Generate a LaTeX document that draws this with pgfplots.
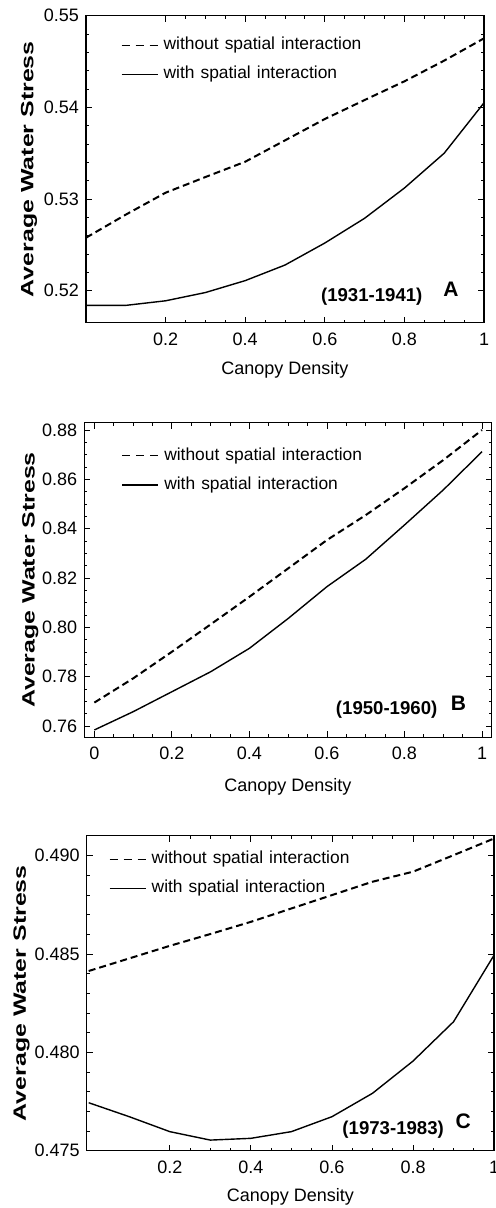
\documentclass[border=0pt]{standalone}
\usepackage{pgfplots}
\pgfplotsset{compat=1.18}
\usepackage{fontspec}
\setmainfont{Liberation Sans}
\newfontfamily\ylabfont{Liberation Sans}[FakeStretch=1.4]
\newfontfamily\legfont{Liberation Sans}[WordSpace=1.25]

\tikzset{
 tagnode/.style={font=\bfseries\fontsize{9.3}{11}\selectfont},
 letternode/.style={font=\bfseries\fontsize{10.5}{12}\selectfont},
}
\pgfplotsset{
 panel/.style={
  scale only axis, anchor=south west,
  axis line style={line width=0.65pt},
  every tick/.style={line width=0.45pt, black},
  major tick length=3pt, minor tick length=1.6pt,
  tick align=inside,
  minor x tick num=3,
  /pgf/number format/assume math mode=true,
  tick label style={font=\fontsize{9}{10}\selectfont},
  xticklabel style={/pgf/number format/fixed, /pgf/number format/precision=1, yshift=-1.5pt},
  xlabel={Canopy Density},
  ylabel={Average Water Stress},
  xlabel style={font=\fontsize{9}{10}\selectfont, anchor=center},
  ylabel style={font=\ylabfont\bfseries\fontsize{8.9}{10}\selectfont, anchor=center},
  legend cell align=left,
  legend style={draw=none, fill=none, inner sep=0pt, row sep=8.2pt,
    font=\legfont\fontsize{8.7}{10}\selectfont,
    nodes={inner sep=0pt, text height=6.4pt, text depth=0pt}},
 },
 dline/.style={black, line width=1pt, dash pattern=on 3.5pt off 2pt,
   legend image code/.code={\draw[black, line width=0.6pt, dash pattern=on 4pt off 3pt] (0pt,-1pt) -- (18pt,-1pt); \path (20.5pt,0pt);}},
 sline/.style={black, line width=0.7pt,
   legend image code/.code={\draw[black, line width=0.6pt] (0pt,-1pt) -- (18pt,-1pt); \path (20.5pt,0pt);}},
}

\begin{document}
\begin{tikzpicture}
\useasboundingbox (0,0) rectangle (247.5pt,-604pt);

% Panel A
\begin{axis}[panel, at={(43pt,-161.35pt)}, width=199pt, height=153.5pt,
  xmin=0, xmax=1, ymin=0.51651, ymax=0.55,
  xtick={0.2,0.4,0.6,0.8,1},
  ytick={0.52,0.53,0.54,0.55}, minor y tick num=4,
  yticklabel style={/pgf/number format/fixed, /pgf/number format/fixed zerofill, /pgf/number format/precision=2},
  xlabel style={at={(axis description cs:0.5,-0.153)}},
  ylabel style={at={(axis description cs:-0.143,0.5)}},
  legend style={at={(axis description cs:0,1)}, anchor=north west, xshift=17.3pt, yshift=-10.4pt}]
\addplot[dline] coordinates {(0,0.52578) (0.1,0.5283) (0.2,0.53069) (0.3,0.5324) (0.4,0.53407) (0.5,0.5364) (0.6,0.53873) (0.7,0.5408) (0.8,0.54284) (0.9,0.5451) (1,0.54753)};
\addlegendentry{without spatial interaction}
\addplot[sline] coordinates {(0,0.5184) (0.1,0.5184) (0.2,0.5189) (0.3,0.5198) (0.4,0.5211) (0.5,0.5228) (0.6,0.5252) (0.7,0.5279) (0.8,0.5312) (0.9,0.5350) (1,0.5405)};
\addlegendentry{with spatial interaction}
\node[tagnode] at (axis cs:0.718,0.5193) {(1931-1941)};
\node[letternode] at (axis cs:0.917,0.5202) {A};
\end{axis}

% Panel B
\begin{axis}[panel, at={(42.15pt,-368.65pt)}, width=203.7pt, height=157.3pt,
  xmin=-0.026, xmax=1.025, ymin=0.75542, ymax=0.88296,
  xtick={0,0.2,0.4,0.6,0.8,1},
  ytick={0.76,0.78,0.80,0.82,0.84,0.86,0.88}, minor y tick num=3,
  yticklabel style={/pgf/number format/fixed, /pgf/number format/fixed zerofill, /pgf/number format/precision=2},
  xlabel style={at={(axis description cs:0.5,-0.159)}},
  ylabel style={at={(axis description cs:-0.1325,0.5)}},
  legend style={at={(axis description cs:0,1)}, anchor=north west, xshift=18.5pt, yshift=-12.1pt}]
\addplot[dline] coordinates {(0,0.7695) (0.1,0.7793) (0.2,0.7901) (0.3,0.8012) (0.4,0.8124) (0.5,0.8239) (0.6,0.8354) (0.7,0.8455) (0.8,0.8564) (0.9,0.8678) (1,0.8800)};
\addlegendentry{without spatial interaction}
\addplot[sline] coordinates {(0,0.7584) (0.1,0.7658) (0.2,0.7739) (0.3,0.7820) (0.4,0.7915) (0.5,0.8036) (0.6,0.8165) (0.7,0.8276) (0.8,0.8415) (0.9,0.8557) (1,0.8712)};
\addlegendentry{with spatial interaction}
\node[tagnode] at (axis cs:0.754,0.7665) {(1950-1960)};
\node[letternode] at (axis cs:0.939,0.7692) {B};
\end{axis}

% Panel C
\begin{axis}[panel, at={(43.35pt,-575.35pt)}, width=203.7pt, height=157.5pt,
  xmin=-0.005, xmax=1, ymin=0.475, ymax=0.49102,
  xtick={0.2,0.4,0.6,0.8,1},
  ytick={0.475,0.480,0.485,0.490}, minor y tick num=4,
  yticklabel style={/pgf/number format/fixed, /pgf/number format/fixed zerofill, /pgf/number format/precision=3},
  xlabel style={at={(axis description cs:0.5,-0.146)}},
  ylabel style={at={(axis description cs:-0.16,0.5)}},
  legend style={at={(axis description cs:0,1)}, anchor=north west, xshift=11pt, yshift=-7.3pt}]
\addplot[dline] coordinates {(0,0.48414) (0.1,0.48478) (0.2,0.48542) (0.3,0.48602) (0.4,0.48664) (0.5,0.48732) (0.6,0.4880) (0.7,0.48868) (0.8,0.48919) (0.9,0.49003) (1,0.49088)};
\addlegendentry{without spatial interaction}
\addplot[sline] coordinates {(0,0.47744) (0.1,0.47673) (0.2,0.47597) (0.3,0.47554) (0.4,0.47563) (0.5,0.47597) (0.6,0.47673) (0.7,0.47792) (0.8,0.47956) (0.9,0.48156) (1,0.48495)};
\addlegendentry{with spatial interaction}
\node[tagnode] at (axis cs:0.751,0.47605) {(1973-1983)};
\node[letternode] at (axis cs:0.924,0.47648) {C};
\end{axis}
\end{tikzpicture}
\end{document}
